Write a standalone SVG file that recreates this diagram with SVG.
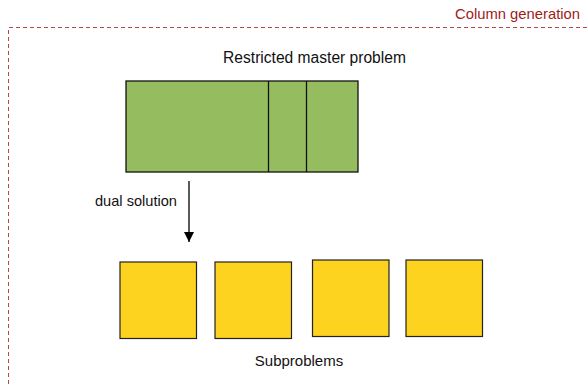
<svg xmlns="http://www.w3.org/2000/svg" width="587" height="384" viewBox="0 0 587 384">
<defs>
<style>
text{font-family:"Liberation Sans",Arial,sans-serif;font-size:15px;fill:#111}
.title{fill:#9e1b1b;font-size:14.8px}
.frame{fill:none;stroke:#b5474b;stroke-width:1;stroke-dasharray:4 3}
.master{fill:#95bd5f;stroke:#111;stroke-width:1.3}
.sub{fill:#fed320;stroke:#222;stroke-width:1.2}
.edge{stroke:#000;stroke-width:1.3;fill:none}
</style>
<marker id="ah" markerWidth="10" markerHeight="10" refX="10" refY="5" orient="auto" markerUnits="userSpaceOnUse" viewBox="0 0 10 10">
<path d="M0,0 L10,5 L0,10 z" fill="#000"/>
</marker>
</defs>
<g id="frame">
<path class="frame" d="M8.5,384 V27.5 H587"/>
<text class="title" x="580" y="19" text-anchor="end">Column generation</text>
</g>
<g id="master">
<rect class="master" x="126" y="81" width="232" height="91"/>
<line x1="268.5" y1="81" x2="268.5" y2="172" stroke="#111" stroke-width="1.3"/>
<line x1="306.5" y1="81" x2="306.5" y2="172" stroke="#111" stroke-width="1.3"/>
<text x="314.5" y="63" text-anchor="middle" style="font-size:15.6px">Restricted master problem</text>
</g>
<g id="connectors">
<line class="edge" x1="189" y1="181" x2="189" y2="242" marker-end="url(#ah)"/>
<text x="95" y="206" style="font-size:14.6px">dual solution</text>
</g>
<g id="sub1"><rect class="sub" x="120" y="262" width="76.5" height="76.5"/></g>
<g id="sub2"><rect class="sub" x="215" y="262" width="76.5" height="76.5"/></g>
<g id="sub3"><rect class="sub" x="312.5" y="260" width="76.5" height="76.5"/></g>
<g id="sub4"><rect class="sub" x="406" y="260" width="76.5" height="76.5"/></g>
<g id="subproblems-label"><text x="299" y="366" text-anchor="middle">Subproblems</text></g>
</svg>
